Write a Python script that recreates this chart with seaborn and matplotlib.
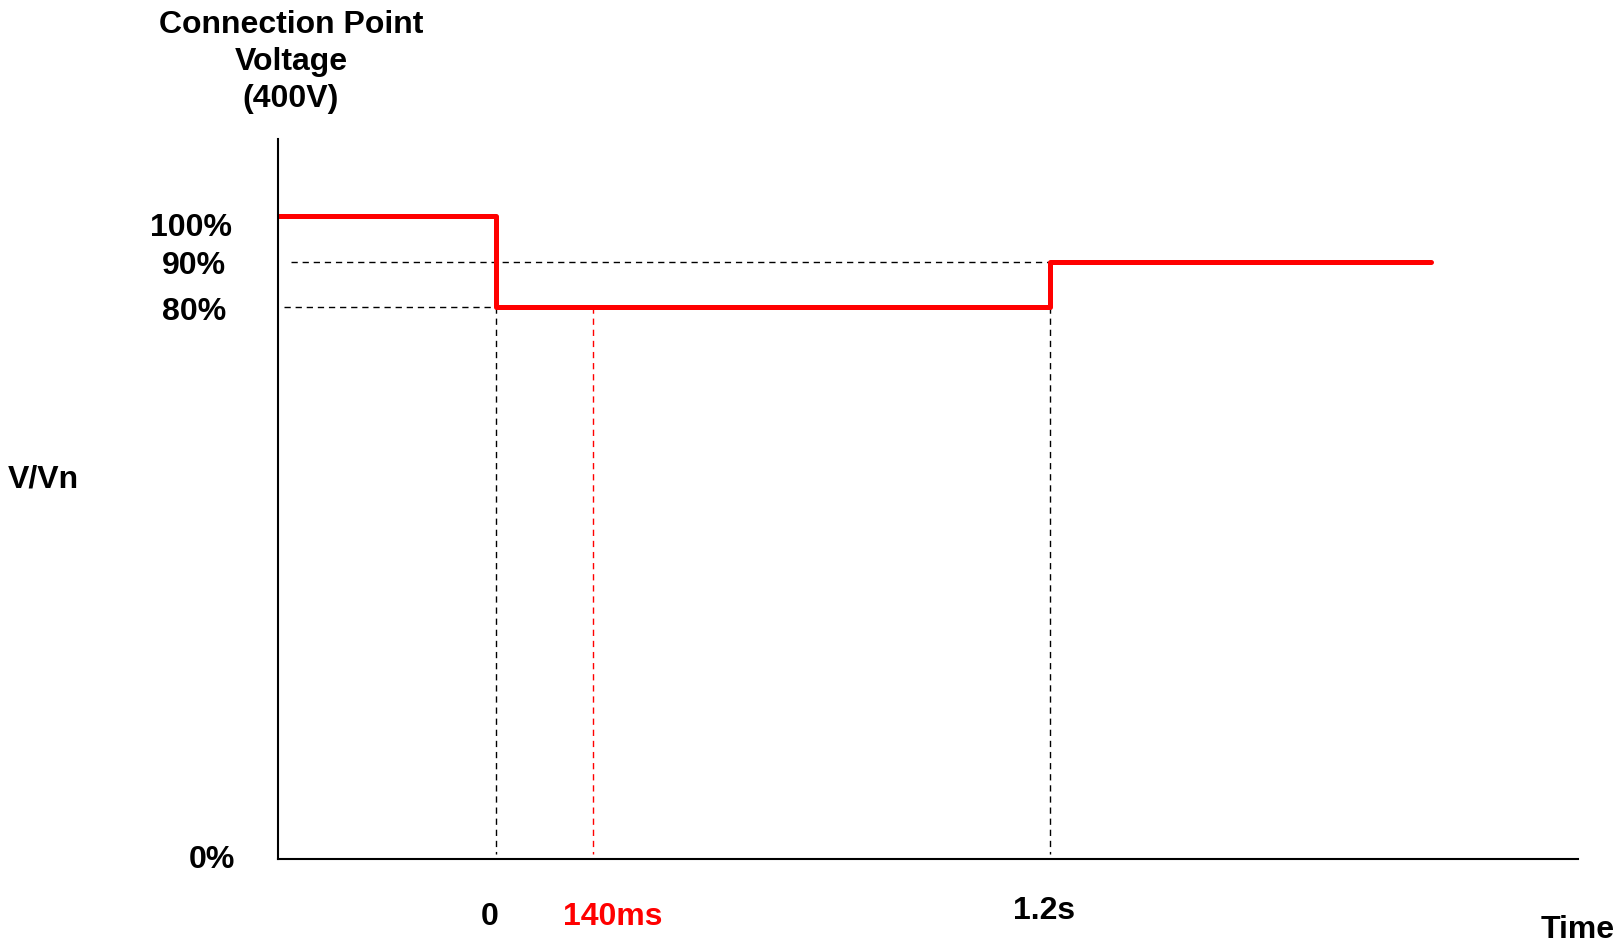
import numpy as np
import matplotlib
matplotlib.use("Agg")
import matplotlib.pyplot as plt
import seaborn as sns

sns.set_style("white")
plt.rcParams['font.family'] = ['Liberation Sans', 'DejaVu Sans']
plt.rcParams['font.weight'] = 'bold'
plt.rcParams['text.color'] = 'black'

# ── data (schematic voltage profile) ──────────────────
step_t = [-0.506, 0.0, 1.2, 2.084]      # s
step_v = [100, 80, 90, 90]              # % of Vn
y_levels = [100, 90, 80, 0]
y_labels = ["100%", "90%", "80%", "0%"]
x_marks = [0.0, 0.14, 1.2]
x_labels = ["0", "140ms", "1.2s"]
x_colors = ["black", "red", "black"]

# ── piecewise schematic scales (the drawing is not to scale) ──
t_k = [-100, 0.0, 0.14, 1.2, 100]
p_k = [496 - 100 * 431, 496, 593, 1050, 1050 + 98.8 * 431]
v_k = [-1000, 0, 80, 1000]
q_k = [-1000 * 6.9, 0, 552, 552 + 920 * 4.5]

def fwd_x(t): return np.interp(t, t_k, p_k)
def inv_x(p): return np.interp(p, p_k, t_k)
def fwd_y(v): return np.interp(v, v_k, q_k)
def inv_y(q): return np.interp(q, q_k, v_k)

fig = plt.figure(figsize=(16.17, 9.47), dpi=100)
ax = fig.add_axes([278 / 1617, 1 - 859 / 947, 1300 / 1617, 720 / 947])
ax.set_xscale('function', functions=(fwd_x, inv_x))
ax.set_yscale('function', functions=(fwd_y, inv_y))
ax.set_xlim(-0.506, 2.425)
ax.set_ylim(0, 117.2)

# dashed guide lines
dash = dict(lw=1.0, linestyle=(0, (4.5, 3.5)))
ax.plot([-0.476, 1.2], [90, 90], color='black', **dash)
ax.plot([-0.492, 0.0], [80, 80], color='black', **dash)
ax.plot([0.0, 0.0], [80, 0.7], color='black', **dash)
ax.plot([1.2, 1.2], [80, 0.7], color='black', **dash)
ax.plot([0.14, 0.14], [80, 0.7], color='red', **dash)

# voltage step curve
sns.lineplot(x=step_t, y=step_v, drawstyle='steps-post', color='#ff0000',
             lw=3.6, ax=ax, legend=False)

ax.set_xticks([])
ax.set_yticks([])
ax.set_xlabel("")
ax.set_ylabel("")
for s in ['top', 'right']:
    ax.spines[s].set_visible(False)
for s in ['left', 'bottom']:
    ax.spines[s].set_color('black')
    ax.spines[s].set_linewidth(1.5)

fs = 23
# y labels
y_dx = [-33, -37.4, -37.4, -31]
y_dy = [-8.5, -3.5, -4.2, -0.5]
for v, lab, dx, dy in zip(y_levels, y_labels, y_dx, y_dy):
    ax.annotate(lab, xy=(0, v), xycoords=('axes fraction', 'data'),
                xytext=(dx, dy), textcoords='offset points',
                ha='right', va='center', fontsize=fs, fontweight='bold')

# x labels
x_dx = [-4.3, 14.4, -4.3]
x_dy = [-41.8, -41.8, -37.4]
for t, lab, c, dx, dy in zip(x_marks, x_labels, x_colors, x_dx, x_dy):
    ax.annotate(lab, xy=(t, 0), xycoords=('data', 'axes fraction'),
                xytext=(dx, dy), textcoords='offset points',
                ha='center', va='center', fontsize=fs, fontweight='bold', color=c)

fig.text(1615 / 1617, 1 - 930 / 947, "Time", ha='right', va='center',
         fontsize=fs, fontweight='bold')
fig.text(8 / 1617, 1 - 480 / 947, "V/Vn", ha='left', va='center',
         fontsize=fs, fontweight='bold')
fig.text(291 / 1617, 1 - 62 / 947, "Connection Point\nVoltage\n(400V)",
         ha='center', va='center', multialignment='center',
         fontsize=fs, fontweight='bold', linespacing=1.32)

fig.savefig("out.png", dpi=100)
